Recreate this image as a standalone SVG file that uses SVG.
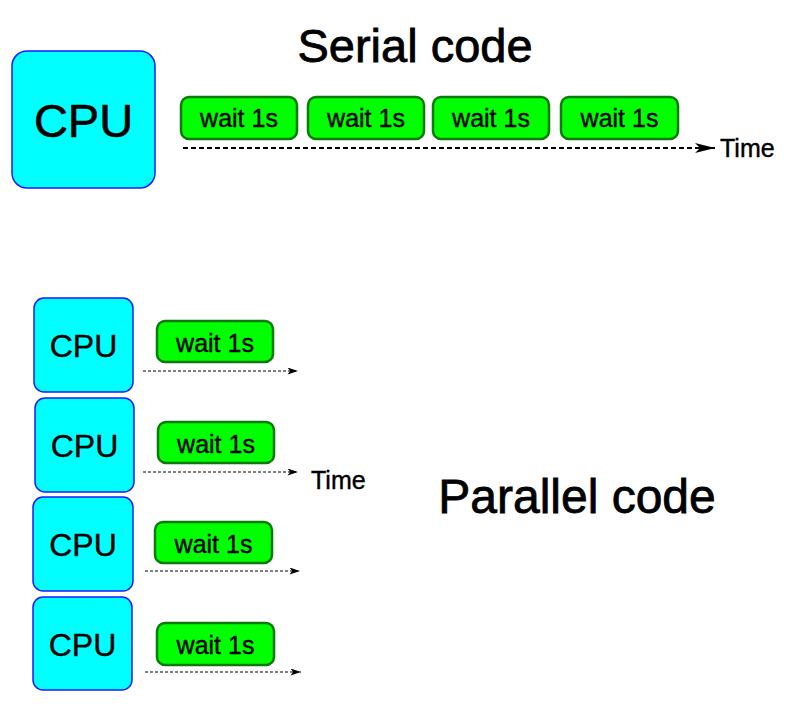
<svg xmlns="http://www.w3.org/2000/svg" width="794" height="720" viewBox="0 0 794 720">
<defs>
<style>
.cpu rect{fill:#00ffff;stroke:#1a1aff;stroke-width:1.5}
.wait rect{fill:#00ff00;stroke:#0b7a0b;stroke-width:2.5}
text{font-family:"Liberation Sans",Arial,sans-serif;fill:#000;stroke:#000;stroke-width:0.4;text-anchor:middle}
.wt{font-size:25px}
.cb{font-size:47px;stroke-width:0.6}
.cs{font-size:32px}
.title{font-size:47px;stroke-width:0.8}
.time{font-size:25px;text-anchor:start}
.ser{stroke:#000;stroke-width:2;stroke-dasharray:5,3;fill:none}
.par{stroke:#000;stroke-width:1;stroke-dasharray:3,2;fill:none}
</style>
<marker id="ah" viewBox="0 0 20 10" refX="20" refY="5" markerWidth="20" markerHeight="10" markerUnits="userSpaceOnUse" orient="auto">
<path d="M0,0 L20,5 L0,10 L5,5 Z" fill="#000"/>
</marker>
<marker id="ahs" viewBox="0 0 12 8" refX="12" refY="4" markerWidth="12" markerHeight="7" markerUnits="userSpaceOnUse" orient="auto">
<path d="M0,0 L12,4 L0,8 L3,4 Z" fill="#000"/>
</marker>
</defs>
<rect width="794" height="720" fill="#fff"/>
<text class="title" x="415" y="62">Serial code</text>
<text class="title" x="577" y="513" style="font-size:48px">Parallel code</text>

<g id="cpu-serial" class="cpu"><rect x="12" y="51" width="143" height="137" rx="15"/><text class="cb" x="83.5" y="137">CPU</text></g>
<g id="wait-s1" class="wait"><rect x="181" y="97" width="116" height="42" rx="8"/><text class="wt" x="239" y="127">wait 1s</text></g>
<g id="wait-s2" class="wait"><rect x="308" y="97" width="116" height="42" rx="8"/><text class="wt" x="366" y="127">wait 1s</text></g>
<g id="wait-s3" class="wait"><rect x="433" y="97" width="116" height="42" rx="8"/><text class="wt" x="491" y="127">wait 1s</text></g>
<g id="wait-s4" class="wait"><rect x="561" y="97" width="117" height="42" rx="8"/><text class="wt" x="619.5" y="127">wait 1s</text></g>
<text class="time" x="720" y="157">Time</text>

<g id="cpu-p1" class="cpu"><rect x="34" y="298" width="99" height="94" rx="10"/><text class="cs" x="83.5" y="357">CPU</text></g>
<g id="cpu-p2" class="cpu"><rect x="35" y="398" width="99" height="94" rx="10"/><text class="cs" x="84.5" y="457">CPU</text></g>
<g id="cpu-p3" class="cpu"><rect x="33" y="497" width="100" height="94" rx="10"/><text class="cs" x="83" y="556">CPU</text></g>
<g id="cpu-p4" class="cpu"><rect x="33" y="597" width="99" height="93" rx="10"/><text class="cs" x="82.5" y="656">CPU</text></g>

<g id="wait-p1" class="wait"><rect x="157" y="321" width="116" height="41" rx="8"/><text class="wt" x="215" y="352">wait 1s</text></g>
<g id="wait-p2" class="wait"><rect x="158" y="422" width="116" height="41" rx="8"/><text class="wt" x="216" y="453">wait 1s</text></g>
<g id="wait-p3" class="wait"><rect x="155" y="522" width="117" height="41" rx="8"/><text class="wt" x="213.5" y="553">wait 1s</text></g>
<g id="wait-p4" class="wait"><rect x="157" y="623" width="117" height="42" rx="8"/><text class="wt" x="215.5" y="654">wait 1s</text></g>
<text class="time" x="311" y="489">Time</text>

<g id="connectors">
<line class="ser" x1="183" y1="148" x2="715" y2="148" marker-end="url(#ah)"/>
<line class="par" x1="143" y1="371" x2="298" y2="371" marker-end="url(#ahs)"/>
<line class="par" x1="143" y1="472" x2="298" y2="472" marker-end="url(#ahs)"/>
<line class="par" x1="145" y1="571" x2="300" y2="571" marker-end="url(#ahs)"/>
<line class="par" x1="145" y1="672" x2="301" y2="672" marker-end="url(#ahs)"/>
</g>
</svg>
